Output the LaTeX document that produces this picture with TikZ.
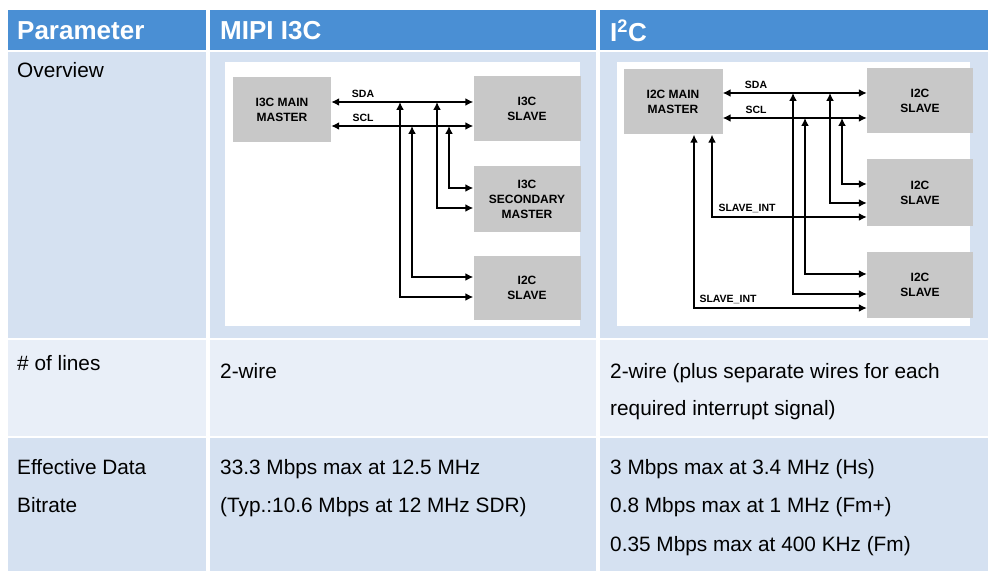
\documentclass[tikz,border=0pt]{standalone}
\usepackage{fontspec}
\setmainfont{Liberation Sans}
\usetikzlibrary{arrows.meta}
\definecolor{hdr}{HTML}{4A8FD4}
\definecolor{rowa}{HTML}{D5E1F1}
\definecolor{rowb}{HTML}{E9EFF8}
\definecolor{boxg}{HTML}{C8C8C8}
\begin{document}
\begin{tikzpicture}[x=1pt,y=-1pt,
  txt/.style={anchor=west,font=\fontsize{20.8}{23}\selectfont,text height=15pt,text depth=4.5pt,inner sep=0pt},
  htxt/.style={anchor=west,font=\fontsize{26}{28}\selectfont\bfseries,text=white,inner sep=0pt},
  blk/.style={fill=boxg,inner sep=0pt,align=center,font=\fontsize{12}{15}\selectfont\bfseries},
  bwire/.style={line width=2.3pt,{Latex[length=8pt,width=8pt]}-{Latex[length=8pt,width=8pt]}},
  lbl/.style={font=\fontsize{10.5}{12}\selectfont\bfseries,inner sep=0pt}]
\useasboundingbox (0,0) rectangle (990,577);
\fill[white] (0,0) rectangle (990,577);
% header
\fill[hdr] (8,10) rectangle (206,50);
\fill[hdr] (210,10) rectangle (596,50);
\fill[hdr] (600,10) rectangle (988,50);
\foreach \r/\a/\b/\c in {1/52/338/rowa,2/340/436/rowb,3/438/571/rowa}{
  \fill[\c] (8,\a) rectangle (206,\b);
  \fill[\c] (210,\a) rectangle (596,\b);
  \fill[\c] (600,\a) rectangle (988,\b);}
\node[htxt] (h1) at (17,31) {Parameter};
\node[htxt] (h2) at (220,31) {MIPI I3C};
\node[htxt] (h3) at (610,31) {I\textsuperscript{2}C};
\node[txt] (t1) at (17,72) {Overview};
\node[txt] (t2) at (17,365) {\# of lines};
\node[txt] (t3) at (17,469) {Effective Data};
\node[txt] (t4) at (17,507) {Bitrate};
\node[txt] (t5) at (220,373) {2-wire};
\node[txt] (t6) at (220,469) {33.3 Mbps max at 12.5 MHz};
\node[txt] (t7) at (220,507) {(Typ.:10.6 Mbps at 12 MHz SDR)};
\node[txt] (t8) at (610,373) {2-wire (plus separate wires for each};
\node[txt] (t9) at (610,410) {required interrupt signal)};
\node[txt] (t10) at (610,469) {3 Mbps max at 3.4 MHz (Hs)};
\node[txt] (t11) at (610,507) {0.8 Mbps max at 1 MHz (Fm+)};
\node[txt] (t12) at (610,546) {0.35 Mbps max at 400 KHz (Fm)};
% left diagram
\fill[white] (225,62) rectangle (580,326);
\node[blk,minimum width=98pt,minimum height=65pt] (am) at (282,110) {I3C MAIN\\MASTER};
\node[blk,minimum width=107pt,minimum height=65pt] (as) at (527,109) {I3C\\SLAVE};
\node[blk,minimum width=107pt,minimum height=66pt] (asm) at (527,199) {I3C\\SECONDARY\\MASTER};
\node[blk,minimum width=107pt,minimum height=64pt] (ai) at (527,288) {I2C\\SLAVE};
\coordinate (asda) at (0,102); \coordinate (ascl) at (0,126);
\draw[bwire] (am.east|-asda) -- (as.west|-asda);
\draw[bwire] (am.east|-ascl) -- (as.west|-ascl);
\node[lbl] (lsda) at (363,94) {SDA};
\node[lbl] (lscl) at (363,118) {SCL};
\draw[bwire] (400,102) -- (400,297) -- (ai.west|-0,297);
\draw[bwire] (412,126) -- (412,277) -- (ai.west|-0,277);
\draw[bwire] (437,102) -- (437,208) -- (asm.west|-0,208);
\draw[bwire] (449,126) -- (449,188) -- (asm.west|-0,188);
% right diagram
\fill[white] (617,62) rectangle (970,326);
\node[blk,minimum width=99pt,minimum height=65pt] (bm) at (673,102) {I2C MAIN\\MASTER};
\node[blk,minimum width=106pt,minimum height=65pt] (bs1) at (920,101) {I2C\\SLAVE};
\node[blk,minimum width=106pt,minimum height=67pt] (bs2) at (920,193) {I2C\\SLAVE};
\node[blk,minimum width=106pt,minimum height=65pt] (bs3) at (920,285) {I2C\\SLAVE};
\coordinate (bsda) at (0,93); \coordinate (bscl) at (0,118);
\draw[bwire] (bm.east|-bsda) -- (bs1.west|-bsda);
\draw[bwire] (bm.east|-bscl) -- (bs1.west|-bscl);
\node[lbl] (rsda) at (756,85) {SDA};
\node[lbl] (rscl) at (756,110) {SCL};
\draw[bwire] (793,93) -- (793,294) -- (bs3.west|-0,294);
\draw[bwire] (805,118) -- (805,274) -- (bs3.west|-0,274);
\draw[bwire] (830,93) -- (830,203) -- (bs2.west|-0,203);
\draw[bwire] (842,118) -- (842,184) -- (bs2.west|-0,184);
\draw[bwire] (bm.south-|712,0) -- (712,217) -- (bs2.west|-0,217);
\draw[bwire] (bm.south-|694,0) -- (694,308) -- (bs3.west|-0,308);
\node[lbl] (li1) at (747,208) {SLAVE\_INT};
\node[lbl] (li2) at (728,299) {SLAVE\_INT};
\end{tikzpicture}
\end{document}
